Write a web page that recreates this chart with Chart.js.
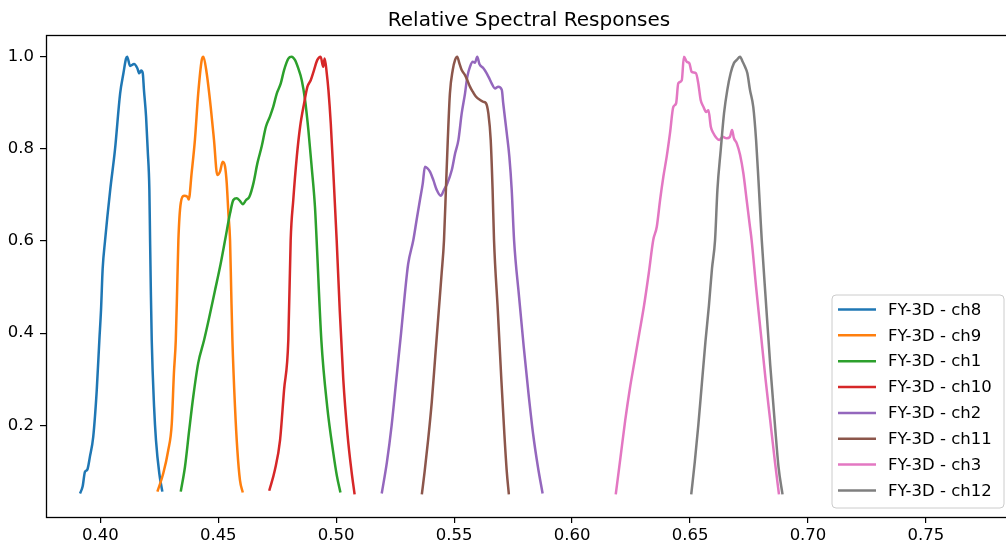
<!DOCTYPE html>
<html>
<head>
<meta charset="utf-8">
<script src="https://cdn.jsdelivr.net/npm/chart.js@4.4.1/dist/chart.umd.min.js"></script>
<style>
  html, body { margin: 0; padding: 0; background: #fff; overflow: hidden; }
  #wrap { width: 1012px; height: 547px; }
</style>
</head>
<body>
<div id="wrap"><canvas id="c" width="1012" height="547"></canvas></div>
<script>
// wavelengths (um) and relative responses
const ch8Wl = [0.3914, 0.3925, 0.3935, 0.3945, 0.3956, 0.397, 0.3985, 0.3996, 0.4003, 0.4010, 0.4020, 0.4042, 0.4062, 0.4084, 0.4098, 0.4109, 0.4114, 0.4126, 0.4143, 0.4157, 0.4165, 0.4173, 0.418, 0.4185, 0.4194, 0.4201, 0.4208, 0.4211, 0.4214, 0.4218, 0.4228, 0.4236, 0.425, 0.4263];
const ch8Rsr = [0.052, 0.067, 0.099, 0.104, 0.132, 0.175, 0.277, 0.385, 0.45, 0.54, 0.60, 0.711, 0.797, 0.92, 0.964, 0.996, 1.0, 0.98, 0.984, 0.975, 0.964, 0.97, 0.964, 0.928, 0.87, 0.797, 0.711, 0.602, 0.5, 0.385, 0.24, 0.168, 0.096, 0.056];

const ch9Wl = [0.4242, 0.4267, 0.4288, 0.4303, 0.4312, 0.432, 0.4326, 0.4331, 0.4341, 0.4355, 0.4369, 0.4375, 0.4387, 0.4401, 0.4415, 0.443, 0.4437, 0.4451, 0.4468, 0.4482, 0.4496, 0.4507, 0.4519, 0.4529, 0.4536, 0.4543, 0.455, 0.4555, 0.456, 0.4571, 0.4581, 0.4592, 0.4604];
const ch9Rsr = [0.056, 0.096, 0.146, 0.204, 0.313, 0.385, 0.5, 0.602, 0.682, 0.698, 0.696, 0.69, 0.747, 0.819, 0.92, 0.993, 1.0, 0.964, 0.891, 0.819, 0.743, 0.75, 0.772, 0.761, 0.725, 0.66, 0.602, 0.49, 0.385, 0.24, 0.146, 0.081, 0.054];

const ch1Wl = [0.4341, 0.4359, 0.4377, 0.4394, 0.4415, 0.444, 0.446, 0.4485, 0.451, 0.4529, 0.455, 0.4564, 0.4578, 0.4592, 0.4604, 0.4618, 0.4632, 0.4649, 0.4666, 0.4684, 0.4702, 0.4719, 0.4733, 0.4748, 0.4765, 0.4779, 0.4797, 0.4811, 0.4825, 0.4839, 0.4854, 0.4868, 0.4882, 0.4896, 0.491, 0.4917, 0.4937, 0.4962, 0.4988, 0.5003, 0.5018];
const ch1Rsr = [0.056, 0.11, 0.19, 0.262, 0.335, 0.385, 0.43, 0.49, 0.55, 0.602, 0.66, 0.689, 0.693, 0.687, 0.68, 0.689, 0.696, 0.725, 0.769, 0.805, 0.848, 0.87, 0.891, 0.92, 0.942, 0.971, 0.996, 1.0, 0.993, 0.975, 0.949, 0.906, 0.841, 0.761, 0.674, 0.602, 0.385, 0.24, 0.139, 0.09, 0.054];

const ch10Wl = [0.4716, 0.474, 0.4762, 0.4779, 0.4797, 0.4807, 0.4818, 0.4833, 0.4847, 0.4864, 0.4878, 0.4892, 0.4906, 0.492, 0.4934, 0.4945, 0.4951, 0.496, 0.4967, 0.4977, 0.4988, 0.5002, 0.5015, 0.503, 0.5048, 0.5065, 0.5078];
const ch10Rsr = [0.058, 0.103, 0.168, 0.277, 0.385, 0.602, 0.689, 0.783, 0.848, 0.899, 0.935, 0.949, 0.971, 0.993, 1.0, 0.978, 0.996, 0.964, 0.928, 0.855, 0.747, 0.602, 0.45, 0.3, 0.18, 0.1, 0.05];

const ch2Wl = [0.5193, 0.5215, 0.5235, 0.5255, 0.5275, 0.529, 0.5305, 0.5327, 0.5341, 0.5355, 0.5367, 0.5376, 0.5386, 0.5398, 0.5412, 0.5426, 0.5443, 0.5457, 0.5471, 0.549, 0.5504, 0.5518, 0.5532, 0.5546, 0.5556, 0.5567, 0.5579, 0.5588, 0.5598, 0.5607, 0.5624, 0.5638, 0.5649, 0.5659, 0.5673, 0.5687, 0.5702, 0.5708, 0.5723, 0.5734, 0.5744, 0.5754, 0.5775, 0.5795, 0.5815, 0.5835, 0.5855, 0.5875];
const ch2Rsr = [0.052, 0.12, 0.2, 0.3, 0.4, 0.48, 0.55, 0.602, 0.646, 0.689, 0.725, 0.761, 0.758, 0.75, 0.732, 0.711, 0.698, 0.711, 0.725, 0.754, 0.79, 0.819, 0.877, 0.92, 0.957, 0.978, 0.989, 0.987, 1.0, 0.984, 0.975, 0.964, 0.953, 0.942, 0.931, 0.935, 0.928, 0.899, 0.834, 0.783, 0.711, 0.602, 0.48, 0.37, 0.27, 0.18, 0.11, 0.052];

const ch11Wl = [0.5363, 0.5375, 0.539, 0.5405, 0.542, 0.5435, 0.5447, 0.5457, 0.5465, 0.5473, 0.5482, 0.5494, 0.5504, 0.5513, 0.5522, 0.5532, 0.5546, 0.5556, 0.5567, 0.5579, 0.5593, 0.561, 0.5624, 0.5635, 0.5645, 0.5655, 0.5663, 0.5669, 0.5685, 0.57, 0.5713, 0.5723, 0.5732];
const ch11Rsr = [0.05, 0.1, 0.17, 0.25, 0.35, 0.45, 0.53, 0.602, 0.711, 0.819, 0.92, 0.971, 0.993, 1.0, 0.986, 0.971, 0.96, 0.949, 0.935, 0.924, 0.913, 0.906, 0.902, 0.899, 0.877, 0.819, 0.711, 0.602, 0.45, 0.3, 0.18, 0.1, 0.05];

const ch3Wl = [0.6185, 0.6205, 0.6225, 0.6245, 0.6265, 0.6285, 0.6305, 0.6325, 0.6344, 0.6359, 0.6373, 0.6387, 0.6401, 0.6415, 0.6429, 0.6441, 0.645, 0.6465, 0.6474, 0.6486, 0.6497, 0.6507, 0.6525, 0.6535, 0.6545, 0.6557, 0.6568, 0.6578, 0.6588, 0.6599, 0.6613, 0.6624, 0.6638, 0.6655, 0.6669, 0.6678, 0.6686, 0.6698, 0.6712, 0.6726, 0.674, 0.6754, 0.6761, 0.678, 0.680, 0.682, 0.684, 0.686, 0.6877];
const ch3Rsr = [0.05, 0.13, 0.21, 0.28, 0.34, 0.4, 0.46, 0.53, 0.602, 0.631, 0.689, 0.74, 0.783, 0.834, 0.891, 0.899, 0.942, 0.949, 1.0, 0.989, 0.986, 0.967, 0.964, 0.942, 0.906, 0.891, 0.88, 0.884, 0.848, 0.834, 0.823, 0.819, 0.826, 0.823, 0.826, 0.841, 0.823, 0.812, 0.787, 0.747, 0.689, 0.631, 0.602, 0.5, 0.4, 0.3, 0.21, 0.12, 0.05];

const ch12Wl = [0.6505, 0.652, 0.6535, 0.655, 0.6565, 0.658, 0.6593, 0.6606, 0.6616, 0.663, 0.6644, 0.6658, 0.6672, 0.6686, 0.6698, 0.6712, 0.6723, 0.6733, 0.6743, 0.6754, 0.6768, 0.678, 0.679, 0.68, 0.6804, 0.682, 0.684, 0.686, 0.6875, 0.6892];
const ch12Rsr = [0.05, 0.12, 0.2, 0.29, 0.38, 0.46, 0.54, 0.602, 0.711, 0.797, 0.877, 0.928, 0.964, 0.986, 0.993, 1.0, 0.989, 0.978, 0.964, 0.928, 0.891, 0.819, 0.732, 0.638, 0.602, 0.48, 0.33, 0.2, 0.11, 0.05];

const labels = ['FY-3D - ch8', 'FY-3D - ch9', 'FY-3D - ch1', 'FY-3D - ch10', 'FY-3D - ch2', 'FY-3D - ch11', 'FY-3D - ch3', 'FY-3D - ch12'];
const colors = ['#1f77b4', '#ff7f0e', '#2ca02c', '#d62728', '#9467bd', '#8c564b', '#e377c2', '#7f7f7f'];
const xTicks = [0.40, 0.45, 0.50, 0.55, 0.60, 0.65, 0.70, 0.75];
const yTicks = [0.2, 0.4, 0.6, 0.8, 1.0];
const titleText = 'Relative Spectral Responses';

const series = [[ch8Wl, ch8Rsr], [ch9Wl, ch9Rsr], [ch1Wl, ch1Rsr], [ch10Wl, ch10Rsr],
                [ch2Wl, ch2Rsr], [ch11Wl, ch11Rsr], [ch3Wl, ch3Rsr], [ch12Wl, ch12Rsr]];

const FONT = '"DejaVu Sans", sans-serif';

const datasets = series.map(([wl, rsr], i) => ({
  label: labels[i],
  data: wl.map((w, j) => ({ x: w, y: rsr[j] })),
  borderColor: colors[i],
  backgroundColor: colors[i],
  borderWidth: 2.5,
  pointRadius: 0,
  cubicInterpolationMode: 'monotone',
  order: series.length - i   // later series on top, like matplotlib
}));

// white background, axes frame, title and the boxed legend
const decor = {
  id: 'decor',
  beforeDraw(chart) {
    const ctx = chart.ctx;
    ctx.save();
    ctx.fillStyle = '#fff';
    ctx.fillRect(0, 0, chart.width, chart.height);
    ctx.restore();
  },
  afterDraw(chart) {
    const ctx = chart.ctx;
    const a = chart.chartArea;
    ctx.save();
    // spines
    ctx.strokeStyle = '#000';
    ctx.lineWidth = 1.3;
    ctx.strokeRect(a.left + 0.5, a.top + 0.5, a.right - a.left - 1, a.bottom - a.top);
    // title centred on the axes
    ctx.fillStyle = '#000';
    ctx.font = '20px ' + FONT;
    ctx.textAlign = 'center';
    ctx.textBaseline = 'alphabetic';
    ctx.fillText(titleText, (a.left + a.right) / 2, 26);
    // legend (lower right)
    const bx = 832, by = 295, bw = 172, bh = 213, r = 4;
    ctx.beginPath();
    ctx.moveTo(bx + r, by);
    ctx.arcTo(bx + bw, by, bx + bw, by + bh, r);
    ctx.arcTo(bx + bw, by + bh, bx, by + bh, r);
    ctx.arcTo(bx, by + bh, bx, by, r);
    ctx.arcTo(bx, by, bx + bw, by, r);
    ctx.closePath();
    ctx.fillStyle = 'rgba(255,255,255,0.8)';
    ctx.fill();
    ctx.strokeStyle = '#cccccc';
    ctx.lineWidth = 1;
    ctx.stroke();
    ctx.font = '16.5px ' + FONT;
    ctx.textAlign = 'left';
    ctx.textBaseline = 'middle';
    labels.forEach((lab, i) => {
      const cy = 309.5 + i * 25.85;
      ctx.strokeStyle = colors[i];
      ctx.lineWidth = 2.5;
      ctx.beginPath();
      ctx.moveTo(838, cy);
      ctx.lineTo(876, cy);
      ctx.stroke();
      ctx.fillStyle = '#000';
      ctx.fillText(lab, 888, cy + 1);
    });
    ctx.restore();
  }
};

new Chart(document.getElementById('c'), {
  type: 'line',
  data: { datasets },
  options: {
    responsive: false,
    animation: false,
    layout: { padding: { top: 35, left: 0, right: 0, bottom: 0 } },
    plugins: { legend: { display: false }, title: { display: false }, tooltip: { enabled: false } },
    scales: {
      x: {
        type: 'linear',
        min: 0.37698,
        max: 0.78648,
        afterBuildTicks: (s) => { s.ticks = xTicks.map(v => ({ value: v })); },
        afterFit: (s) => { s.height = 30; },
        grid: { display: true, drawOnChartArea: false, drawTicks: true, tickLength: 6, color: '#000', lineWidth: 1.2 },
        border: { display: false },
        ticks: { color: '#000', padding: 3, maxRotation: 0, font: { family: FONT, size: 16.5 },
                 callback: (v) => v.toFixed(2) }
      },
      y: {
        type: 'linear',
        min: 0.001,
        max: 1.0471,
        afterBuildTicks: (s) => { s.ticks = yTicks.map(v => ({ value: v })); },
        afterFit: (s) => { s.width = 46; },
        grid: { display: true, drawOnChartArea: false, drawTicks: true, tickLength: 6, color: '#000', lineWidth: 1.2 },
        border: { display: false },
        ticks: { color: '#000', padding: 6, font: { family: FONT, size: 16.5 },
                 callback: (v) => v.toFixed(1) }
      }
    }
  },
  plugins: [decor]
});
</script>
</body>
</html>
